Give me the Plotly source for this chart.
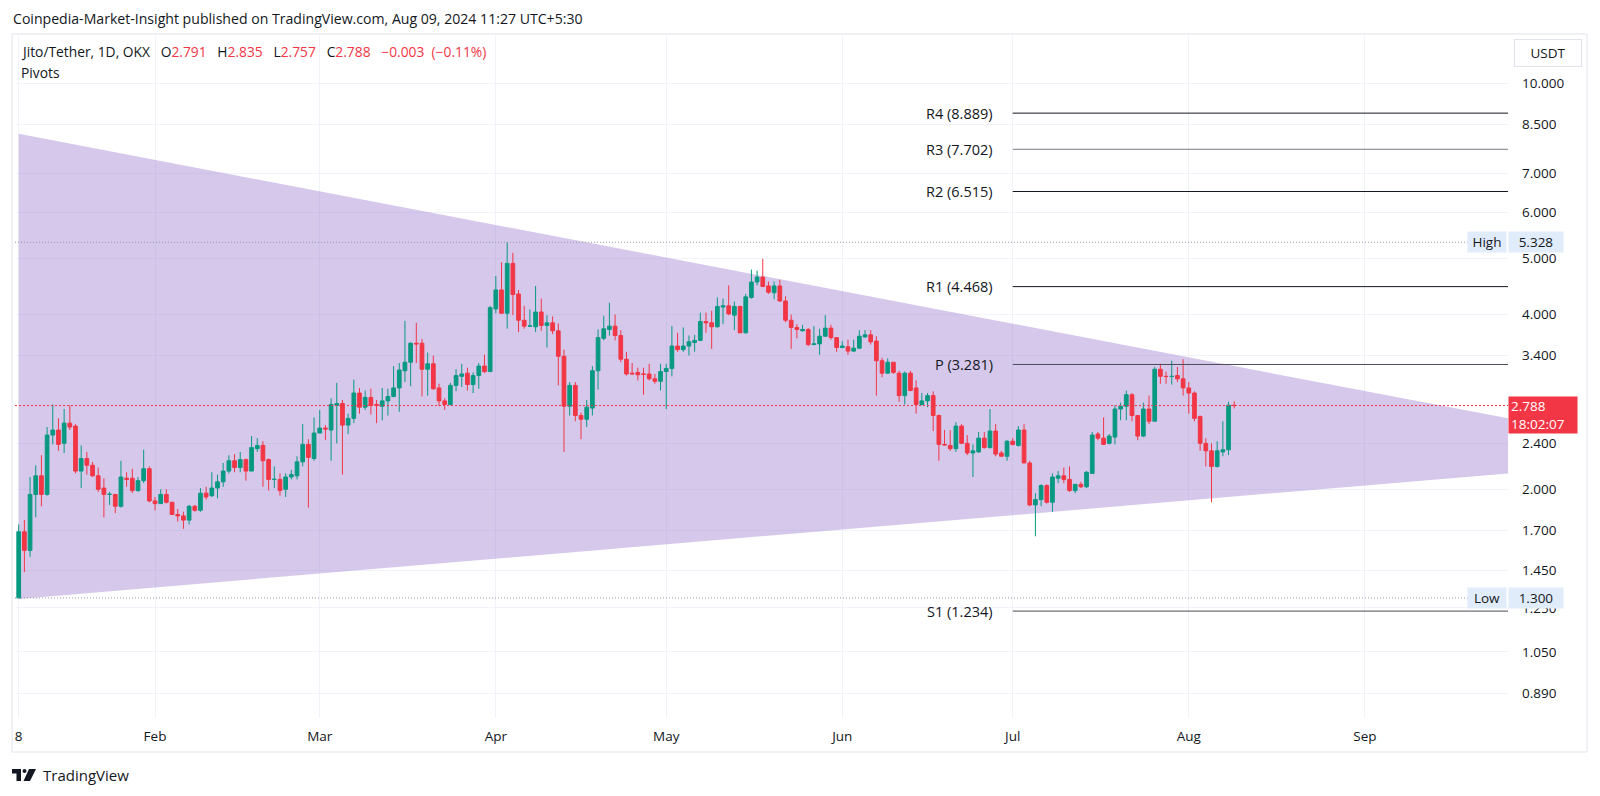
import math
import pandas as pd
import plotly.graph_objects as go

# ---------------- data ----------------
start_date = "2024-01-08"

opens = [
    1.30, 1.69, 1.57, 1.96, 2.11, 1.96, 2.48, 2.53, 2.40, 2.60,
    2.57, 2.15, 2.26, 2.20, 2.11, 2.01, 1.96, 1.96, 1.87, 2.09,
    2.09, 1.99, 2.07, 2.17, 1.91, 1.89, 1.96, 1.90, 1.81, 1.80,
    1.77, 1.87, 1.84, 1.97, 1.95, 2.01, 2.06, 2.15, 2.24, 2.18,
    2.25, 2.15, 2.35, 2.38, 2.25, 2.08, 2.08, 2.00, 2.10, 2.11,
    2.23, 2.39, 2.26, 2.50, 2.55, 2.53, 2.79, 2.81, 2.58, 2.65,
    2.93, 2.77, 2.88, 2.80, 2.78, 2.84, 2.89, 2.99, 3.20, 3.31,
    3.57, 3.57, 3.22, 3.29, 2.99, 2.84, 2.80, 3.02, 3.13, 3.17,
    3.03, 3.14, 3.26, 3.19, 4.09, 4.41, 4.02, 4.90, 4.34, 3.91,
    3.82, 3.81, 4.04, 3.83, 3.87, 3.75, 3.39, 2.78, 3.02, 2.68,
    2.64, 2.76, 3.20, 3.64, 3.77, 3.82, 3.68, 3.35, 3.17, 3.18,
    3.16, 3.16, 3.10, 3.07, 3.19, 3.23, 3.53, 3.48, 3.53, 3.58,
    3.61, 3.89, 3.87, 3.81, 4.12, 4.14, 3.99, 4.13, 3.72, 4.28,
    4.55, 4.64, 4.48, 4.36, 4.48, 4.22, 3.91, 3.80, 3.75, 3.77,
    3.55, 3.56, 3.67, 3.79, 3.65, 3.51, 3.52, 3.46, 3.50, 3.66,
    3.69, 3.60, 3.33, 3.17, 3.31, 3.17, 2.90, 3.17, 2.99, 2.80,
    2.84, 2.90, 2.68, 2.39, 2.38, 2.35, 2.57, 2.40, 2.31, 2.32,
    2.45, 2.36, 2.52, 2.31, 2.28, 2.42, 2.38, 2.53, 2.22, 1.88,
    1.92, 2.03, 1.90, 2.09, 2.11, 2.08, 1.99, 2.04, 2.02, 2.13,
    2.49, 2.45, 2.40, 2.46, 2.75, 2.78, 2.91, 2.68, 2.47, 2.75,
    2.62, 3.22, 3.13, 3.128, 3.14, 3.10, 2.99, 2.93, 2.67, 2.40,
    2.33, 2.19, 2.32, 2.34, 2.791,
]
highs = [
    1.74, 1.77, 2.10, 2.20, 2.29, 2.56, 2.80, 2.65, 2.75, 2.79,
    2.59, 2.38, 2.32, 2.23, 2.18, 2.09, 1.98, 1.96, 2.24, 2.14,
    2.17, 2.10, 2.34, 2.19, 1.94, 2.00, 2.00, 1.90, 1.85, 1.83,
    1.88, 1.88, 2.01, 2.02, 2.14, 2.12, 2.22, 2.29, 2.30, 2.32,
    2.26, 2.47, 2.45, 2.42, 2.26, 2.19, 2.13, 2.13, 2.16, 2.28,
    2.59, 2.44, 2.66, 2.74, 2.58, 2.87, 3.05, 2.85, 2.70, 3.09,
    2.99, 2.96, 2.98, 2.85, 2.99, 2.98, 3.26, 3.30, 3.90, 3.58,
    3.87, 3.63, 3.44, 3.40, 3.04, 2.87, 3.05, 3.22, 3.29, 3.24,
    3.18, 3.30, 3.41, 4.14, 4.66, 4.92, 5.328, 5.11, 4.41, 4.14,
    4.08, 4.48, 4.26, 3.99, 3.97, 3.86, 3.48, 3.06, 3.06, 2.71,
    2.85, 3.26, 3.77, 3.98, 4.19, 4.00, 3.76, 3.45, 3.30, 3.24,
    3.24, 3.29, 3.16, 3.29, 3.29, 3.82, 3.72, 3.80, 3.68, 3.69,
    4.03, 4.03, 4.06, 4.28, 4.26, 4.49, 4.21, 4.14, 4.34, 4.78,
    4.76, 4.99, 4.56, 4.56, 4.59, 4.30, 4.00, 3.85, 3.84, 3.79,
    3.82, 3.78, 3.99, 3.84, 3.65, 3.60, 3.62, 3.62, 3.76, 3.76,
    3.76, 3.67, 3.37, 3.36, 3.31, 3.20, 3.19, 3.20, 3.08, 2.93,
    2.93, 2.95, 2.69, 2.53, 2.53, 2.61, 2.59, 2.48, 2.39, 2.51,
    2.51, 2.75, 2.59, 2.33, 2.43, 2.45, 2.57, 2.59, 2.24, 1.97,
    2.04, 2.04, 2.13, 2.15, 2.18, 2.19, 2.04, 2.06, 2.15, 2.51,
    2.51, 2.66, 2.49, 2.79, 2.82, 2.96, 2.93, 2.68, 2.82, 2.90,
    3.25, 3.29, 3.19, 3.33, 3.25, 3.35, 3.06, 2.95, 2.68, 2.45,
    2.40, 2.42, 2.62, 2.83, 2.835,
]
lows = [
    1.30, 1.44, 1.53, 1.79, 1.87, 1.95, 2.39, 2.33, 2.31, 2.53,
    2.13, 2.01, 2.12, 2.10, 1.98, 1.79, 1.88, 1.82, 1.86, 2.02,
    1.97, 1.98, 2.05, 1.90, 1.84, 1.89, 1.89, 1.81, 1.76, 1.71,
    1.74, 1.83, 1.83, 1.92, 1.94, 1.93, 2.02, 2.13, 2.14, 2.14,
    2.07, 2.15, 2.32, 2.02, 1.99, 2.01, 1.95, 1.94, 2.08, 2.08,
    2.19, 1.86, 2.24, 2.50, 2.43, 2.24, 2.40, 2.12, 2.49, 2.60,
    2.70, 2.74, 2.69, 2.60, 2.63, 2.68, 2.88, 2.72, 3.06, 3.01,
    3.30, 2.89, 2.90, 2.97, 2.78, 2.74, 2.79, 2.95, 3.00, 2.96,
    2.93, 2.98, 3.17, 3.19, 4.02, 4.02, 3.78, 3.99, 3.73, 3.78,
    3.81, 3.73, 3.75, 3.51, 3.70, 3.02, 2.32, 2.68, 2.62, 2.44,
    2.56, 2.68, 2.97, 3.61, 3.68, 3.61, 3.31, 3.14, 3.16, 3.08,
    2.91, 3.08, 3.04, 2.96, 2.75, 3.13, 3.45, 3.45, 3.40, 3.45,
    3.60, 3.72, 3.49, 3.80, 3.85, 3.99, 3.76, 3.72, 3.71, 4.26,
    4.49, 4.46, 4.34, 4.25, 4.21, 3.88, 3.49, 3.64, 3.74, 3.53,
    3.55, 3.41, 3.66, 3.62, 3.45, 3.50, 3.41, 3.45, 3.49, 3.65,
    3.55, 2.90, 3.12, 3.16, 3.16, 2.83, 2.80, 2.95, 2.70, 2.79,
    2.77, 2.52, 2.24, 2.38, 2.33, 2.32, 2.40, 2.29, 2.10, 2.31,
    2.35, 2.35, 2.28, 2.28, 2.24, 2.38, 2.37, 2.22, 1.87, 1.66,
    1.87, 1.89, 1.83, 2.05, 2.05, 1.98, 1.97, 2.01, 2.01, 2.13,
    2.43, 2.39, 2.39, 2.39, 2.63, 2.63, 2.62, 2.43, 2.46, 2.59,
    2.62, 3.04, 3.04, 3.03, 3.06, 2.90, 2.70, 2.62, 2.33, 2.19,
    1.90, 2.18, 2.28, 2.29, 2.757,
]
closes = [
    1.69, 1.57, 1.96, 2.11, 1.96, 2.48, 2.53, 2.39, 2.60, 2.56,
    2.15, 2.26, 2.20, 2.11, 2.00, 1.96, 1.961, 1.87, 2.10, 2.08,
    1.99, 2.07, 2.17, 1.91, 1.89, 1.96, 1.90, 1.81, 1.80, 1.77,
    1.87, 1.84, 1.97, 1.94, 2.01, 2.06, 2.15, 2.24, 2.18, 2.25,
    2.15, 2.36, 2.38, 2.24, 2.08, 2.081, 1.99, 2.10, 2.12, 2.23,
    2.39, 2.27, 2.50, 2.55, 2.54, 2.80, 2.81, 2.58, 2.65, 2.93,
    2.77, 2.88, 2.79, 2.79, 2.84, 2.89, 2.99, 3.21, 3.31, 3.57,
    3.56, 3.22, 3.29, 2.98, 2.84, 2.80, 3.02, 3.14, 3.16, 3.03,
    3.14, 3.26, 3.19, 4.11, 4.41, 4.02, 4.90, 4.33, 3.91, 3.82,
    3.821, 4.04, 3.83, 3.87, 3.75, 3.39, 2.78, 3.02, 2.68, 2.64,
    2.77, 3.20, 3.65, 3.78, 3.82, 3.68, 3.35, 3.16, 3.16, 3.15,
    3.155, 3.10, 3.07, 3.19, 3.23, 3.53, 3.48, 3.53, 3.59, 3.61,
    3.89, 3.87, 3.81, 4.13, 4.14, 4.01, 4.13, 3.72, 4.29, 4.55,
    4.64, 4.47, 4.37, 4.48, 4.22, 3.91, 3.80, 3.77, 3.77, 3.55,
    3.56, 3.67, 3.79, 3.65, 3.51, 3.53, 3.46, 3.50, 3.67, 3.69,
    3.59, 3.33, 3.17, 3.31, 3.18, 2.90, 3.17, 2.96, 2.80, 2.84,
    2.90, 2.68, 2.39, 2.385, 2.35, 2.57, 2.40, 2.31, 2.33, 2.45,
    2.36, 2.52, 2.30, 2.28, 2.42, 2.39, 2.53, 2.22, 1.88, 1.92,
    2.03, 1.90, 2.10, 2.11, 2.08, 1.99, 2.04, 2.02, 2.14, 2.48,
    2.45, 2.39, 2.47, 2.75, 2.78, 2.91, 2.68, 2.47, 2.75, 2.62,
    3.22, 3.13, 3.128, 3.13, 3.10, 2.99, 2.93, 2.65, 2.40, 2.33,
    2.19, 2.33, 2.34, 2.791, 2.788,
]
dates = pd.date_range(start_date, periods=len(opens), freq="D")

y_tick_vals = [0.89, 1.05, 1.25, 1.45, 1.7, 2.0, 2.4, 3.4, 4.0, 5.0, 6.0, 7.0, 8.5, 10.0]
y_tick_text = ["0.890", "1.050", "1.250", "1.450", "1.700", "2.000", "2.400",
               "3.400", "4.000", "5.000", "6.000", "7.000", "8.500", "10.000"]
x_tick_dates = ["2024-01-08", "2024-02-01", "2024-03-01", "2024-04-01", "2024-05-01",
                "2024-06-01", "2024-07-01", "2024-08-01", "2024-09-01"]
x_tick_text = ["8", "Feb", "Mar", "Apr", "May", "Jun", "Jul", "Aug", "Sep"]

pivot_names = ["R4", "R3", "R2", "R1", "P", "S1"]
pivot_values = [8.889, 7.702, 6.515, 4.468, 3.281, 1.234]
pivot_colors = ["#131722", "#787B86", "#131722", "#131722", "#4A4D57", "#4A4D57"]
pivot_start = "2024-07-01"

tri_dates = ["2024-01-08", "2024-09-26 04:48"]
tri_upper = [8.19, 2.65]
tri_lower = [1.295, 2.13]

high_value = 5.328
low_value = 1.300
last_price = 2.788
countdown = "18:02:07"

x_range = ["2024-01-07 08:22", "2024-09-26 04:48"]
y_range_vals = [0.8076, 12.07]

UP = "#089981"
DOWN = "#F23645"
TXT = "#131722"
FONT = "'Open Sans', Roboto, sans-serif"

# ---------------- layout helpers ----------------
# The page body adds an 8px margin, so the figure is sized/shifted to compensate.
OFF = 8
W, H = 1600 - OFF, 796 - 2 * OFF
P_LEFT, P_RIGHT, P_TOP, P_BOTTOM = 15, 1508, 36, 718      # plot area in page pixels
ML, MT = P_LEFT - OFF, P_TOP - OFF
MR, MB = W - (P_RIGHT - OFF), H - (P_BOTTOM - OFF)
PW, PH = P_RIGHT - P_LEFT, P_BOTTOM - P_TOP


def px(x):
    return (x - P_LEFT) / PW


def py(y):
    return (P_BOTTOM - y) / PH


def dstr(d):
    return d.replace(" ", "_")


fig = go.Figure()

# high / low dotted lines
for val in (high_value, low_value):
    fig.add_trace(go.Scatter(
        x=[x_range[0], "2024-09-21"], y=[val, val], mode="lines",
        line=dict(color="#9598A1", width=1, dash="1px,2px"),
        hoverinfo="skip", showlegend=False))

# current price dotted line
fig.add_trace(go.Scatter(
    x=x_range, y=[last_price, last_price], mode="lines",
    line=dict(color=DOWN, width=1, dash="2px,2px"),
    hoverinfo="skip", showlegend=False))

# pivot lines
for name, val, col in zip(pivot_names, pivot_values, pivot_colors):
    fig.add_trace(go.Scatter(
        x=[pivot_start, x_range[1]], y=[val, val], mode="lines",
        line=dict(color=col, width=1), hoverinfo="skip", showlegend=False))

# candles
fig.add_trace(go.Candlestick(
    x=dates, open=opens, high=highs, low=lows, close=closes,
    increasing=dict(line=dict(color=UP, width=1), fillcolor=UP),
    decreasing=dict(line=dict(color=DOWN, width=1), fillcolor=DOWN),
    whiskerwidth=0, showlegend=False, hoverinfo="skip"))

annotations = []

# header texts
annotations.append(dict(
    xref="paper", yref="paper", x=px(11), y=py(18.5), xanchor="left", yanchor="middle",
    text="Coinpedia-Market-Insight published on TradingView.com, Aug 09, 2024 11:27 UTC+5:30",
    showarrow=False, font=dict(size=14.1, color=TXT, family=FONT)))
red = DOWN
sp = "\u00a0\u00a0\u00a0"
hdr = ("Jito/Tether, 1D, OKX" + sp +
       f"O<span style='color:{red}'>2.791</span>" + sp +
       f"H<span style='color:{red}'>2.835</span>" + sp +
       f"L<span style='color:{red}'>2.757</span>" + sp +
       f"C<span style='color:{red}'>2.788</span>" + sp +
       f"<span style='color:{red}'>\u22120.003\u00a0\u00a0(\u22120.11%)</span>")
annotations.append(dict(
    xref="paper", yref="paper", x=px(19), y=py(52), xanchor="left", yanchor="middle",
    text=hdr, showarrow=False, font=dict(size=13.8, color=TXT, family=FONT)))
annotations.append(dict(
    xref="paper", yref="paper", x=px(19), y=py(73), xanchor="left", yanchor="middle",
    text="Pivots", showarrow=False, font=dict(size=13.8, color=TXT, family=FONT)))

# pivot labels
for name, val in zip(pivot_names, pivot_values):
    annotations.append(dict(
        xref="x", yref="y", x=pivot_start, y=math.log10(val), xanchor="right",
        yanchor="middle", xshift=-18, text=f"{name} ({val:.3f})", showarrow=False,
        font=dict(size=14.5, color=TXT, family=FONT)))

# high / low tags
for lbl, val in (("High", high_value), ("Low", low_value)):
    annotations.append(dict(
        xref="paper", yref="y", x=px(1507), y=math.log10(val), xanchor="right",
        yanchor="middle", text=lbl, showarrow=False, bgcolor="#E1ECFB",
        width=34, height=16, borderpad=2, font=dict(size=13.5, color=TXT, family=FONT)))
    annotations.append(dict(
        xref="paper", yref="y", x=px(1508), y=math.log10(val), xanchor="left",
        yanchor="middle", text=f"{val:.3f}", showarrow=False, bgcolor="#E1ECFB",
        width=50, height=16, borderpad=2, font=dict(size=13.5, color=TXT, family=FONT)))

# current price tag
annotations.append(dict(
    xref="paper", yref="y", x=px(1508), y=math.log10(last_price), xanchor="left",
    yanchor="top", yshift=10, text=f"{last_price:.3f}<br>{countdown}", align="left",
    showarrow=False, bgcolor=DOWN, width=64, height=32, borderpad=2,
    font=dict(size=13.5, color="white", family=FONT)))

# currency button
annotations.append(dict(
    xref="paper", yref="paper", x=px(1548), y=py(53), xanchor="center", yanchor="middle",
    text="USDT", showarrow=False, bordercolor="#E0E3EB", borderwidth=1, borderpad=4,
    width=58, height=18, font=dict(size=13.5, color=TXT, family=FONT)))

# footer
annotations.append(dict(
    xref="paper", yref="paper", x=px(41), y=py(775), xanchor="left", yanchor="middle",
    text="TradingView", showarrow=False, font=dict(size=15, color=TXT, family=FONT)))

shapes = []
# symmetrical triangle drawing (between gridlines and traces so candles stay on top)
tri_path = (f"M{dstr(tri_dates[0])},{tri_upper[0]} "
            f"L{dstr(tri_dates[1])},{tri_upper[1]} "
            f"L{dstr(tri_dates[1])},{tri_lower[1]} "
            f"L{dstr(tri_dates[0])},{tri_lower[0]} Z")
shapes.append(dict(type="path", xref="x", yref="y", path=tri_path,
                   fillcolor="rgba(149,117,205,0.40)", line=dict(width=0), layer="between"))

# panel frame
shapes.append(dict(type="rect", xref="paper", yref="paper", x0=px(12), x1=px(1587),
                   y0=py(752), y1=py(34), line=dict(color="#E0E3EB", width=1),
                   fillcolor="rgba(0,0,0,0)", layer="below"))


def path(points):
    return "M" + " L".join(f"{px(a):.5f},{py(b):.5f}" for a, b in points) + " Z"


# TradingView logo
shapes.append(dict(type="path", xref="paper", yref="paper",
                   path=path([(12, 769), (21, 769), (21, 781), (16.5, 781), (16.5, 773.5), (12, 773.5)]),
                   fillcolor=TXT, line=dict(width=0)))
shapes.append(dict(type="circle", xref="paper", yref="paper", x0=px(22.5), x1=px(26.5),
                   y0=py(773), y1=py(769), fillcolor=TXT, line=dict(width=0)))
shapes.append(dict(type="path", xref="paper", yref="paper",
                   path=path([(29, 769), (36, 769), (30, 781), (23.5, 781)]),
                   fillcolor=TXT, line=dict(width=0)))

fig.update_layout(
    width=W, height=H,
    margin=dict(l=ML, r=MR, t=MT, b=MB, pad=0),
    paper_bgcolor="white", plot_bgcolor="white",
    showlegend=False, hovermode=False,
    boxgap=0.35, boxgroupgap=0,
    font=dict(family=FONT, color=TXT, size=13.5),
    annotations=annotations, shapes=shapes,
    xaxis=dict(
        type="date", range=x_range, rangeslider=dict(visible=False),
        tickvals=x_tick_dates, ticktext=x_tick_text, ticks="",
        showgrid=True, gridcolor="#F0F3FA", gridwidth=1, zeroline=False,
        showline=False, tickfont=dict(size=13.5, color=TXT, family=FONT),
        ticklabelstandoff=8, automargin=False, fixedrange=True),
    yaxis=dict(
        type="log", side="right",
        range=[math.log10(y_range_vals[0]), math.log10(y_range_vals[1])],
        tickvals=y_tick_vals, ticktext=y_tick_text, ticks="",
        showgrid=True, gridcolor="#F0F3FA", gridwidth=1, zeroline=False,
        showline=False, tickfont=dict(size=13.5, color=TXT, family=FONT),
        ticklabelstandoff=13, automargin=False, fixedrange=True),
)

fig.write_html("out.html")
